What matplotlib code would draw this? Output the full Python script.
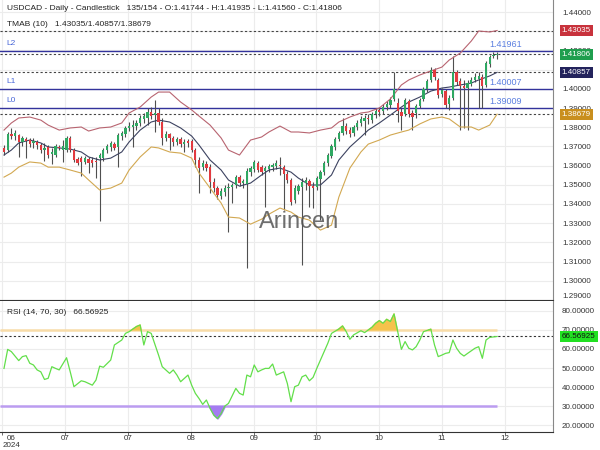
import numpy as np
import matplotlib
matplotlib.use("Agg")
import matplotlib.pyplot as plt
from matplotlib.ticker import FormatStrFormatter

plt.rcParams['font.family'] = ['Liberation Sans', 'DejaVu Sans']

# daily candles, one value per bar
opens = [
    1.3692, 1.3681, 1.3764, 1.3754, 1.3759, 1.3723, 1.3738, 1.3733, 1.3718, 1.3723,
    1.3707, 1.3681, 1.3697, 1.3660, 1.3655, 1.3697, 1.3681, 1.3681, 1.3744, 1.3681,
    1.3634, 1.3639, 1.3619, 1.3634, 1.3629, 1.3624, 1.3639, 1.3639, 1.3681, 1.3697,
    1.3712, 1.3697, 1.3754, 1.3764, 1.3796, 1.3801, 1.3806, 1.3822, 1.3843, 1.3848,
    1.3879, 1.3863, 1.3874, 1.3827, 1.3744, 1.3764, 1.3744, 1.3723, 1.3738, 1.3712,
    1.3728, 1.3728, 1.3681, 1.3629, 1.3592, 1.3608, 1.3592, 1.3514, 1.3483, 1.3441,
    1.3462, 1.3483, 1.3488, 1.3499, 1.3540, 1.3509, 1.3504, 1.3566, 1.3582, 1.3613,
    1.3592, 1.3572, 1.3582, 1.3592, 1.3598, 1.3603, 1.3592, 1.3556, 1.3525, 1.3420,
    1.3467, 1.3488, 1.3509, 1.3519, 1.3493, 1.3488, 1.3530, 1.3566, 1.3613, 1.3650,
    1.3697, 1.3738, 1.3770, 1.3806, 1.3785, 1.3770, 1.3801, 1.3822, 1.3832, 1.3848,
    1.3837, 1.3869, 1.3890, 1.3884, 1.3905, 1.3916, 1.3947, 1.3926, 1.3879, 1.3869,
    1.3936, 1.3874, 1.3874, 1.3910, 1.3947, 1.3999, 1.4046, 1.4098, 1.4046, 1.3973,
    1.3988, 1.3921, 1.3952, 1.4087, 1.4041, 1.4014, 1.4004, 1.4025, 1.4046, 1.4051,
    1.4061, 1.4020, 1.4129, 1.4171, 1.41744]
highs = [
    1.3707, 1.3775, 1.3796, 1.3785, 1.3764, 1.3754, 1.3749, 1.3744, 1.3744, 1.3733,
    1.3718, 1.3718, 1.3707, 1.3692, 1.3712, 1.3707, 1.3733, 1.3754, 1.3754, 1.3692,
    1.3645, 1.3650, 1.3650, 1.3645, 1.3645, 1.3645, 1.3665, 1.3692, 1.3712, 1.3728,
    1.3723, 1.3770, 1.3780, 1.3806, 1.3827, 1.3837, 1.3837, 1.3863, 1.3874, 1.3900,
    1.3905, 1.3942, 1.3900, 1.3848, 1.3780, 1.3770, 1.3754, 1.3749, 1.3749, 1.3738,
    1.3738, 1.3738, 1.3692, 1.3645, 1.3629, 1.3624, 1.3608, 1.3535, 1.3493, 1.3483,
    1.3499, 1.3509, 1.3509, 1.3551, 1.3551, 1.3530, 1.3587, 1.3598, 1.3629, 1.3624,
    1.3603, 1.3598, 1.3608, 1.3613, 1.3629, 1.3645, 1.3603, 1.3572, 1.3535, 1.3499,
    1.3504, 1.3535, 1.3540, 1.3530, 1.3514, 1.3546, 1.3577, 1.3624, 1.3665, 1.3712,
    1.3749, 1.3780, 1.3848, 1.3822, 1.3801, 1.3811, 1.3837, 1.3858, 1.3863, 1.3869,
    1.3879, 1.3900, 1.3905, 1.3921, 1.3936, 1.3957, 1.4087, 1.3952, 1.3900, 1.3952,
    1.3947, 1.3890, 1.3921, 1.3952, 1.4009, 1.4051, 1.4113, 1.4108, 1.4056, 1.4004,
    1.3999, 1.3968, 1.4171, 1.4098, 1.4056, 1.4046, 1.4046, 1.4061, 1.4082, 1.4087,
    1.4077, 1.4145, 1.4176, 1.4192, 1.41935]
lows = [
    1.3655, 1.3671, 1.3738, 1.3733, 1.3645, 1.3702, 1.3639, 1.3697, 1.3692, 1.3686,
    1.3665, 1.3624, 1.3639, 1.3608, 1.3645, 1.3681, 1.3619, 1.3671, 1.3671, 1.3619,
    1.3603, 1.3546, 1.3608, 1.3561, 1.3592, 1.3535, 1.3311, 1.3624, 1.3665, 1.3676,
    1.3681, 1.3592, 1.3733, 1.3749, 1.3780, 1.3697, 1.3785, 1.3806, 1.3822, 1.3811,
    1.3843, 1.3775, 1.3811, 1.3707, 1.3728, 1.3681, 1.3702, 1.3707, 1.3697, 1.3671,
    1.3697, 1.3671, 1.3592, 1.3457, 1.3577, 1.3572, 1.3457, 1.3462, 1.3426, 1.3426,
    1.3441, 1.3254, 1.3405, 1.3483, 1.3493, 1.3483, 1.3066, 1.3546, 1.3566, 1.3566,
    1.3551, 1.3384, 1.3566, 1.3572, 1.3582, 1.3551, 1.3368, 1.3509, 1.3394, 1.3405,
    1.3452, 1.3082, 1.3473, 1.3384, 1.3379, 1.3473, 1.3316, 1.3551, 1.3598, 1.3639,
    1.3681, 1.3728, 1.3759, 1.3764, 1.3749, 1.3754, 1.3785, 1.3806, 1.3759, 1.3817,
    1.3822, 1.3848, 1.3858, 1.3869, 1.3890, 1.3900, 1.3936, 1.3827, 1.3785, 1.3858,
    1.3853, 1.3785, 1.3848, 1.3900, 1.3936, 1.3983, 1.4035, 1.4046, 1.3952, 1.3957,
    1.3900, 1.3890, 1.3942, 1.4020, 1.3785, 1.3796, 1.3785, 1.4014, 1.4035, 1.3900,
    1.3900, 1.4009, 1.4113, 1.4160, 1.41560]
closes = [
    1.3671, 1.3764, 1.3754, 1.3770, 1.3723, 1.3744, 1.3728, 1.3712, 1.3728, 1.3707,
    1.3681, 1.3692, 1.3655, 1.3671, 1.3702, 1.3692, 1.3702, 1.3744, 1.3681, 1.3629,
    1.3613, 1.3619, 1.3639, 1.3613, 1.3613, 1.3619, 1.3655, 1.3681, 1.3702, 1.3718,
    1.3692, 1.3759, 1.3770, 1.3796, 1.3806, 1.3811, 1.3822, 1.3848, 1.3858, 1.3879,
    1.3858, 1.3874, 1.3827, 1.3744, 1.3764, 1.3744, 1.3723, 1.3738, 1.3712, 1.3723,
    1.3718, 1.3681, 1.3629, 1.3587, 1.3613, 1.3587, 1.3514, 1.3483, 1.3446, 1.3467,
    1.3483, 1.3488, 1.3499, 1.3540, 1.3509, 1.3519, 1.3572, 1.3587, 1.3619, 1.3577,
    1.3566, 1.3587, 1.3598, 1.3603, 1.3613, 1.3598, 1.3556, 1.3525, 1.3410, 1.3483,
    1.3493, 1.3514, 1.3525, 1.3493, 1.3483, 1.3535, 1.3566, 1.3613, 1.3655, 1.3702,
    1.3738, 1.3770, 1.3806, 1.3780, 1.3764, 1.3801, 1.3822, 1.3843, 1.3848, 1.3843,
    1.3869, 1.3884, 1.3879, 1.3905, 1.3921, 1.3942, 1.3999, 1.3884, 1.3858, 1.3942,
    1.3869, 1.3853, 1.3910, 1.3942, 1.3999, 1.4041, 1.4098, 1.4061, 1.3968, 1.3994,
    1.3916, 1.3952, 1.4087, 1.4035, 1.4014, 1.4004, 1.4030, 1.4046, 1.4061, 1.4067,
    1.4014, 1.4134, 1.4166, 1.4176, 1.41806]

# TMA bands read at these bars
band_bars = [0, 2, 4, 7, 10, 12, 15, 18, 21, 23, 26, 29, 32, 34, 37, 40, 42, 45, 48, 51,
             53, 56, 59, 61, 64, 67, 70, 72, 75, 78, 80, 83, 86, 89, 91, 94, 97, 99, 102, 105,
             108, 110, 113, 116, 119, 121, 124, 127, 129, 132, 134]
tma_upper = [1.3785, 1.3822, 1.3848, 1.3853, 1.3837, 1.3811, 1.3785, 1.3796, 1.3801, 1.3780,
             1.3796, 1.3801, 1.3822, 1.3874, 1.3905, 1.3957, 1.3983, 1.3983, 1.3931, 1.3890,
             1.3858, 1.3811, 1.3744, 1.3681, 1.3655, 1.3733, 1.3749, 1.3775, 1.3806, 1.3775,
             1.3775, 1.3770, 1.3785, 1.3796, 1.3827, 1.3853, 1.3874, 1.3879, 1.3900, 1.3947,
             1.4020, 1.4046, 1.4072, 1.4093, 1.4113, 1.4150, 1.4186, 1.4249, 1.4301, 1.4296, 1.43035]
tma_mid = [1.3655, 1.3681, 1.3718, 1.3733, 1.3718, 1.3697, 1.3692, 1.3686, 1.3671, 1.3645,
           1.3629, 1.3639, 1.3671, 1.3723, 1.3785, 1.3827, 1.3837, 1.3827, 1.3796, 1.3754,
           1.3707, 1.3629, 1.3577, 1.3525, 1.3493, 1.3509, 1.3551, 1.3577, 1.3587, 1.3566,
           1.3535, 1.3499, 1.3499, 1.3551, 1.3629, 1.3697, 1.3749, 1.3785, 1.3822, 1.3863,
           1.3905, 1.3931, 1.3957, 1.3988, 1.4004, 1.4009, 1.4020, 1.4030, 1.4046, 1.4067, 1.40857]
tma_lower = [1.3540, 1.3561, 1.3592, 1.3619, 1.3613, 1.3592, 1.3592, 1.3577, 1.3561, 1.3525,
             1.3473, 1.3483, 1.3509, 1.3577, 1.3645, 1.3697, 1.3692, 1.3671, 1.3665, 1.3639,
             1.3561, 1.3483, 1.3405, 1.3332, 1.3327, 1.3295, 1.3321, 1.3347, 1.3379, 1.3358,
             1.3332, 1.3316, 1.3264, 1.3290, 1.3436, 1.3587, 1.3671, 1.3712, 1.3733, 1.3759,
             1.3775, 1.3785, 1.3817, 1.3843, 1.3853, 1.3843, 1.3801, 1.3801, 1.3785, 1.3811, 1.38679]

# RSI (14) read at these bars
rsi_bars = [0, 1, 2, 4, 5, 6, 7, 8, 9, 10, 11, 12, 13, 14, 15, 17, 18, 19, 21, 22,
            24, 25, 26, 27, 29, 30, 32, 33, 34, 36, 37, 38, 39, 40, 42, 43, 45, 46, 47, 48,
            50, 51, 52, 53, 54, 55, 56, 57, 58, 59, 60, 61, 63, 64, 65, 66, 67, 68, 69, 70,
            71, 72, 73, 74, 76, 77, 78, 79, 80, 81, 82, 83, 84, 85, 86, 87, 88, 89, 91, 92,
            93, 94, 95, 97, 98, 99, 100, 101, 102, 103, 104, 105, 106, 107, 108, 109, 110, 111, 112, 113,
            114, 116, 117, 118, 119, 120, 121, 122, 123, 124, 125, 126, 128, 129, 130, 131, 132, 134]
rsi_vals = [49.8, 59.8, 58.6, 53.9, 56.0, 56.5, 52.5, 51.6, 49.0, 48.0,
            44.0, 44.6, 50.7, 49.8, 49.0, 55.4, 48.0, 40.2, 43.3, 42.8,
            41.0, 43.7, 51.0, 50.4, 54.2, 62.1, 64.7, 68.2, 69.1, 71.8,
            72.6, 62.1, 69.1, 68.2, 56.8, 50.7, 47.2, 49.0, 46.3, 42.8,
            46.3, 41.0, 36.7, 34.0, 30.9, 33.2, 28.8, 25.3, 23.5, 26.1,
            30.0, 31.4, 39.3, 36.7, 35.8, 46.3, 45.4, 51.6, 48.0, 49.0,
            49.8, 49.8, 52.1, 46.3, 48.0, 41.9, 32.3, 40.2, 41.0, 45.4,
            46.3, 43.3, 45.1, 49.8, 54.2, 58.6, 63.0, 68.2, 70.5, 72.1,
            69.1, 65.1, 67.4, 69.6, 68.6, 70.0, 71.4, 73.5, 74.9, 73.5,
            75.6, 74.4, 78.4, 69.1, 59.8, 63.9, 60.4, 59.5, 61.2, 64.7,
            69.1, 70.4, 62.1, 56.0, 56.8, 57.7, 58.1, 64.7, 60.4, 57.7,
            56.3, 57.7, 60.4, 61.2, 55.1, 64.7, 66.1, 66.56925]

tmab = [1.43035, 1.40857, 1.38679]
levels = [("L2", 1.41961), ("L1", 1.40007), ("L0", 1.39009)]
last_close = 1.41806
rsi_last = 66.56925

tick_pos = [-0.5, 16.6, 33.7, 50.8, 67.9, 84.9, 102.0, 119.0, 136.1]
tick_labels = ["06\n2024", "07", "07", "08", "09", "10", "10", "11", "12"]

GREEN = "#2fa862"
RED = "#e23a3f"
FS = 5.8

o = np.array(opens)
h = np.array(highs)
l = np.array(lows)
c = np.array(closes)
x = np.arange(len(c))

fig = plt.figure(figsize=(6, 4.5), dpi=100)
ax = fig.add_axes([0, 150 / 450, 553 / 600, 300 / 450])
rax = fig.add_axes([0, 18 / 450, 553 / 600, 131 / 450])
xlim = (-1.09, 149.2)

# --- price panel ---
ax.vlines(x, l, h, color="#4f4f4f", lw=0.8, zorder=2)
up = c >= o
body = np.maximum(np.abs(c - o), 0.0001)
ax.bar(x[up], body[up], bottom=o[up], width=0.62, color=GREEN, zorder=3)
ax.bar(x[~up], body[~up], bottom=c[~up], width=0.62, color=RED, zorder=3)

ax.plot(band_bars, tma_upper, color="#b86470", lw=0.8, zorder=2.5)
ax.plot(band_bars, tma_mid, color="#3c4260", lw=0.8, zorder=2.5)
ax.plot(band_bars, tma_lower, color="#d2a851", lw=0.8, zorder=2.5)

for v in tmab + [last_close]:
    ax.axhline(v, color="#444444", ls=(0, (2, 2)), lw=0.8, zorder=1.5)
for name, v in levels:
    ax.axhline(v, color="#33339c", lw=1.0, zorder=1.6)
    ax.annotate(name, xy=(6 / 553, v), xycoords=("axes fraction", "data"),
                xytext=(0, 5.5), textcoords="offset points", va="center",
                ha="left", color="#4a68d8", fontsize=6)
    ax.annotate(f"{v:.5f}", xy=(489 / 553, v), xycoords=("axes fraction", "data"),
                xytext=(0, 4.5), textcoords="offset points", va="center",
                ha="left", color="#5b7fe0", fontsize=6.5)

ax.set_xlim(*xlim)
ax.set_ylim(1.2900, 1.44625)
yt = np.round(np.arange(1.29, 1.44001, 0.01), 2)
ax.set_yticks(yt)
# 1.41 and 1.43 sit fully under the value boxes in the source
ax.set_yticklabels(["" if v in (1.41, 1.43) else f"{v:.5f}" for v in yt])
ax.set_xticks(tick_pos)
ax.tick_params(axis="x", length=0, labelbottom=False)
ax.yaxis.tick_right()
ax.tick_params(axis="y", length=0, pad=6.5, labelsize=FS, labelcolor="#333333")
ax.grid(color="#ececec", lw=0.8, zorder=0)
ax.set_axisbelow(True)
for s in ["top", "left"]:
    ax.spines[s].set_visible(False)
ax.spines["right"].set_color("#888888")
ax.spines["bottom"].set_color("#333333")
ax.get_yticklabels()[0].set_va("bottom")

box_cols = [(1.43035, "#c8323c"), (last_close, "#1f9e4e"),
            (1.40857, "#23235c"), (1.38679, "#c98f1e")]
for v, col in box_cols:
    ax.annotate(f"{v:.5f}", xy=(1.0, v), xycoords=("axes fraction", "data"),
                xytext=(6.3, 0), textcoords="offset points", va="center", ha="left",
                fontsize=FS, color="white", annotation_clip=False, zorder=5,
                bbox=dict(boxstyle="square,pad=0.25", fc=col, ec="none"))

ax.text(7 / 553, 1 - 8 / 300,
        "USDCAD - Daily - Candlestick   135/154 - O:1.41744 - H:1.41935 - L:1.41560 - C:1.41806",
        transform=ax.transAxes, fontsize=6, color="#222222", va="center")
ax.text(7 / 553, 1 - 25 / 300, "TMAB (10)   1.43035/1.40857/1.38679",
        transform=ax.transAxes, fontsize=6, color="#222222", va="center")
ax.text(0.54, 0.26, "Arincen", transform=ax.transAxes, fontsize=17,
        color="#555555", alpha=0.85, ha="center", va="center", zorder=6)

# --- RSI panel ---
rb = np.array(rsi_bars)
rv = np.array(rsi_vals)
last_bar = len(c) - 1
rax.hlines(70, xlim[0], last_bar, color="#f8dca8", lw=1.8, zorder=1)
rax.hlines(30, xlim[0], last_bar, color="#bb9cf0", lw=1.8, zorder=1)
rax.fill_between(rb, rv, 70, where=rv > 70, interpolate=True, color="#f5c24c", zorder=2)
rax.fill_between(rb, rv, 30, where=rv < 30, interpolate=True, color="#a47cf0", zorder=2)
rax.plot(rb, rv, color="#62df4a", lw=0.9, zorder=3)
rax.axhline(rsi_last, color="#333333", ls=(0, (2, 2)), lw=0.8, zorder=2)
rax.annotate(f"{rsi_last:.5f}", xy=(1.0, rsi_last), xycoords=("axes fraction", "data"),
             xytext=(6.3, 0), textcoords="offset points", va="center", ha="left",
             fontsize=FS, color="#111111", annotation_clip=False, zorder=5,
             bbox=dict(boxstyle="square,pad=0.25", fc="#22e022", ec="none"))
rax.text(7 / 553, 0.916, "RSI (14, 70, 30)   66.56925", transform=rax.transAxes,
         fontsize=6, color="#222222", va="center")

rax.set_xlim(*xlim)
rax.set_ylim(16.4, 85.2)
rax.set_yticks(np.arange(20, 81, 10))
rax.yaxis.tick_right()
rax.yaxis.set_major_formatter(FormatStrFormatter("%.5f"))
rax.tick_params(axis="y", length=0, pad=6.5, labelsize=FS, labelcolor="#333333")
rax.set_xticks(tick_pos)
rax.set_xticklabels(tick_labels, linespacing=0.95)
rax.tick_params(axis="x", length=2, width=0.6, color="#555555", pad=0.5,
                labelsize=5.8, labelcolor="#333333")
first = rax.get_xticklabels()[0]
first.set_ha("left")
first.set_multialignment("center")
rax.grid(color="#ececec", lw=0.8, zorder=0)
rax.set_axisbelow(True)
for s in ["top", "left"]:
    rax.spines[s].set_visible(False)
rax.spines["right"].set_color("#888888")
rax.spines["bottom"].set_color("#333333")

fig.savefig("out.png", dpi=100)
